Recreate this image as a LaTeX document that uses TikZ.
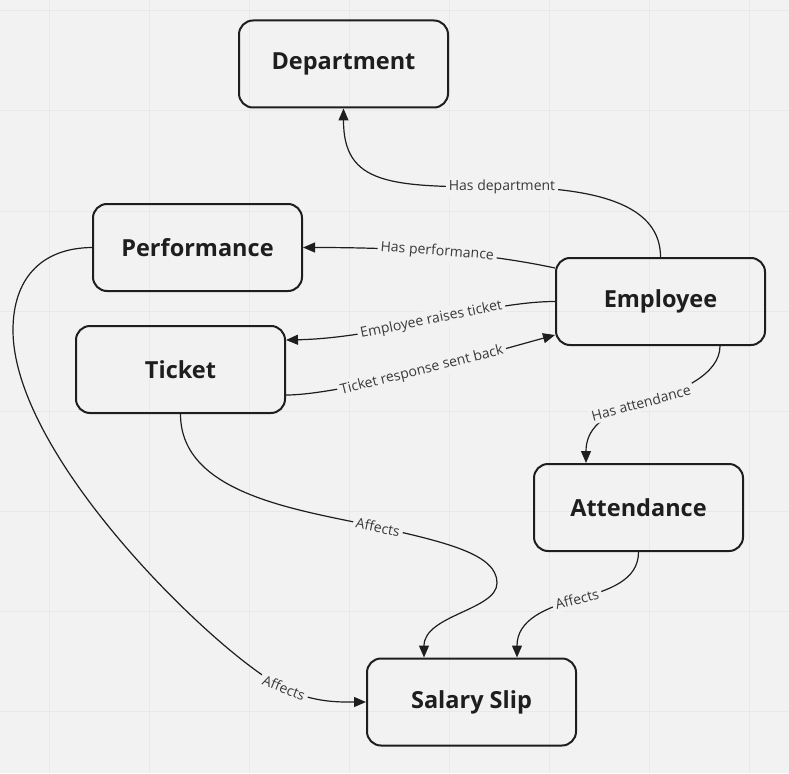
\documentclass[tikz,border=0pt]{standalone}
\usepackage{fontspec}
\setmainfont{Open Sans}
\usetikzlibrary{arrows.meta}
\definecolor{canvas}{HTML}{F2F2F2}
\definecolor{gridgray}{HTML}{E8E8E8}
\definecolor{ink}{HTML}{1E1E1E}
\definecolor{labelgray}{HTML}{3A3A3A}

\begin{document}
\begin{tikzpicture}[x=1pt, y=-1pt,
  box/.style = {draw=ink, line width=2pt, rounded corners=14pt,
                minimum width=209pt, minimum height=87pt,
                text=ink, font=\fontsize{23.5}{27}\selectfont\bfseries},
  link/.style = {draw=ink, line width=1.2pt, -{Triangle[length=12pt, width=10pt]}},
  lbl/.style = {fill=canvas, inner sep=3pt, text=labelgray, font=\fontsize{14}{16}\selectfont},
  gridline/.style = {draw=gridgray, line width=1pt},
  ]
  % canvas and grid
  \fill[canvas] (0,0) rectangle (789,773);
  \useasboundingbox (0,0) rectangle (789,773);
  \foreach \g in {49,149,...,749} \draw[gridline] (\g,0) -- (\g,773);
  \foreach \g in {11,111,...,711} \draw[gridline] (0,\g) -- (789,\g);

  % entities
  \node[box] (dept) at (343.5,64)    {Department};
  \node[box] (perf) at (197.5,247.5) {Performance};
  \node[box] (emp)  at (660.5,301.5) {Employee};
  \node[box] (tic)  at (180.5,369.5) {Ticket};
  \node[box] (att)  at (638.5,507.5) {Attendance};
  \node[box] (sal)  at (471.5,702)   {Salary Slip};

  % relations
  \draw[link] (emp.north) .. controls (660.5,215) and (620,187) .. (502,187)
    node[lbl] {Has department}
    .. controls (390,187) and (343.5,185) .. (dept.south);
  \draw[link] ([yshift=33.5pt]emp.west) .. controls (480,252) and (400,247.5) .. (perf.east)
    node[lbl, sloped, pos=.5] {Has performance};
  \draw[link] (emp.west) .. controls (485,301.5) and (385,338) .. ([yshift=29.5pt]tic.east)
    node[lbl, sloped, pos=.5] {Employee raises ticket};
  \draw[link] ([yshift=-25.5pt]tic.east) .. controls (345,395) and (500,350) .. ([yshift=-33.5pt]emp.west)
    node[lbl, sloped, pos=.5] {Ticket response sent back};
  \draw[link] ([xshift=59.5pt]emp.south) .. controls (720,374) and (681,392) .. (641,403)
    node[lbl, rotate=15] {Has attendance}
    .. controls (601,414) and (586,430) .. ([xshift=-52.5pt]att.north);
  \draw[link] (att.south) .. controls (638.5,580) and (610,590) .. (577,599)
    node[lbl, rotate=15] {Affects}
    .. controls (545,608) and (517,620) .. ([xshift=45.5pt]sal.north);
  \draw[link] (tic.south) .. controls (180.5,495) and (300,510) .. (378,527)
    node[lbl, rotate=-12] {Affects}
    .. controls (450,543) and (497,555) .. (497,583)
    .. controls (497,610) and (424,615) .. ([xshift=-47.5pt]sal.north);
  \draw[link] (perf.west) .. controls (40,248) and (13,280) .. (13,330)
    .. controls (13,460) and (224,660) .. (284,688)
    node[lbl, rotate=-22] {Affects}
    .. controls (314,703) and (340,702) .. (sal.west);
\end{tikzpicture}
\end{document}
